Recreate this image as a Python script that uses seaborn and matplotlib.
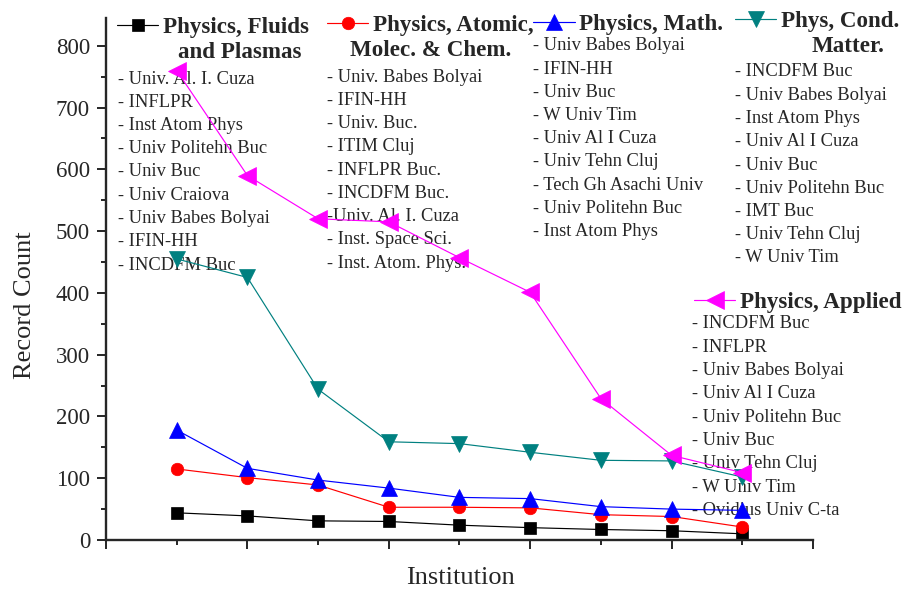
import pandas as pd
import matplotlib
matplotlib.use("Agg")
import matplotlib.pyplot as plt
import seaborn as sns
from matplotlib.ticker import MultipleLocator, NullFormatter

# ---- data -----------------------------------------------------------------
institution = [1, 2, 3, 4, 5, 6, 7, 8, 9]

fluids_plasmas = [44, 39, 31, 30, 24, 20, 17, 15, 10]
atomic_molec_chem = [115, 101, 89, 53, 53, 52, 41, 38, 21]
mathematical = [178, 116, 97, 84, 69, 67, 54, 50, 48]
cond_matter = [455, 425, 244, 159, 156, 142, 129, 128, 102]
applied = [760, 590, 520, 515, 457, 401, 229, 137, 109]

fields = [
    "Physics, Fluids and Plasmas",
    "Physics, Atomic, Molec. & Chem.",
    "Physics, Math.",
    "Phys, Cond. Matter.",
    "Physics, Applied",
]
series = [fluids_plasmas, atomic_molec_chem, mathematical, cond_matter, applied]

# legend headings (first line, second line)
headings = [
    ("Physics, Fluids", "and Plasmas"),
    ("Physics, Atomic,", "Molec. & Chem."),
    ("Physics, Math.", None),
    ("Phys, Cond.", "Matter."),
    ("Physics, Applied", None),
]

# top institutions listed under each category
fluids_inst = ["- Univ. Al. I. Cuza", "- INFLPR", "- Inst Atom Phys", "- Univ Politehn Buc",
               "- Univ Buc", "- Univ Craiova", "- Univ Babes Bolyai", "- IFIN-HH", "- INCDFM Buc"]
atomic_inst = ["- Univ. Babes Bolyai", "- IFIN-HH", "- Univ. Buc.", "- ITIM Cluj", "- INFLPR Buc.",
               "- INCDFM Buc.", "-Univ. Al. I. Cuza", "- Inst. Space Sci.", "- Inst. Atom. Phys."]
math_inst = ["- Univ Babes Bolyai", "- IFIN-HH", "- Univ Buc", "- W Univ Tim", "- Univ Al I Cuza",
             "- Univ Tehn Cluj", "- Tech Gh Asachi Univ", "- Univ Politehn Buc", "- Inst Atom Phys"]
cond_inst = ["- INCDFM Buc", "- Univ Babes Bolyai", "- Inst Atom Phys", "- Univ Al I Cuza", "- Univ Buc",
             "- Univ Politehn Buc", "- IMT Buc", "- Univ Tehn Cluj", "- W Univ Tim"]
applied_inst = ["- INCDFM Buc", "- INFLPR", "- Univ Babes Bolyai", "- Univ Al I Cuza", "- Univ Politehn Buc",
                "- Univ Buc", "- Univ Tehn Cluj", "- W Univ Tim", "- Ovidius Univ C-ta"]
inst_lists = [fluids_inst, atomic_inst, math_inst, cond_inst, applied_inst]

# ---- styling --------------------------------------------------------------
colors = ["#000000", "#ff0000", "#0000ff", "#008080", "#ff00ff"]
markers = ["s", "o", "^", "v", "<"]
msizes = [8.0, 9.0, 11.0, 11.0, 12.5]

W, H = 903, 589


def fx(x):
    return x / W


def fy(y):
    return 1 - y / H


sns.set_theme(style="ticks")
plt.rcParams["font.family"] = ["Liberation Serif", "DejaVu Serif"]
plt.rcParams["axes.linewidth"] = 1.7

fig = plt.figure(figsize=(W / 100, H / 100), dpi=100)
ax = fig.add_axes([fx(106), 1 - 540 / H, (813 - 106) / W, (540 - 18) / H])

df = pd.DataFrame({
    "Institution": [x for _ in fields for x in institution],
    "Record Count": [v for s in series for v in s],
    "Field": [f for f, s in zip(fields, series) for _ in s],
})

sns.lineplot(
    data=df, x="Institution", y="Record Count",
    hue="Field", style="Field", hue_order=fields, style_order=fields,
    palette=dict(zip(fields, colors)), markers=dict(zip(fields, markers)),
    dashes=False, linewidth=0.85, legend=False, sort=False, ax=ax,
)

handles = {}
for line in ax.lines:
    c = matplotlib.colors.to_hex(line.get_color())
    if c in colors:
        i = colors.index(c)
        line.set_markersize(msizes[i])
        line.set_markeredgecolor(colors[i])
        line.set_markerfacecolor(colors[i])
        line.set_markeredgewidth(0.5)
        handles[i] = line

# ---- axes -----------------------------------------------------------------
ax.set_xlim(0, 10)
ax.set_ylim(0, 845)
ax.xaxis.set_major_locator(MultipleLocator(2))
ax.xaxis.set_minor_locator(MultipleLocator(1))
ax.xaxis.set_major_formatter(NullFormatter())
ax.yaxis.set_major_locator(MultipleLocator(100))
ax.yaxis.set_minor_locator(MultipleLocator(50))
ax.tick_params(which="major", direction="out", length=6.5, width=1.4, labelsize=16.5, pad=5)
ax.tick_params(which="minor", direction="out", length=3.5, width=1.4)
sns.despine(ax=ax)
ax.spines["left"].set_bounds(0, 845)

ax.set_xlabel("Institution", fontsize=19, va="center")
ax.set_ylabel("Record Count", fontsize=19, va="center")
ax.xaxis.set_label_coords(0.501, -0.073)
ax.yaxis.set_label_coords(-0.115, 0.45)

# ---- legend keys, headings and institution lists --------------------------
# (key left x, key y, second-line centre x, second-line y,
#  list x, first list y, list step) in figure pixels
layout = [
    (117, 27, 240, 52, 118, 79, 23.25),
    (327, 25, 431, 50, 327, 77, 23.25),
    (533, 24, None, None, 533, 46, 23.2),
    (735, 21, 848, 47, 735, 72, 23.25),
    (694, 302, None, None, 692, 324, 23.3),
]

bold = dict(family="Liberation Serif", weight="bold", size=16.6)
for i, (kx, ky, sx, sy, lx, ly, step) in enumerate(layout):
    first, second = headings[i]
    fig.legend(
        handles=[handles[i]], labels=[first], loc="center left",
        bbox_to_anchor=(fx(kx), fy(ky)), frameon=False, borderpad=0,
        borderaxespad=0, handlelength=1.8, handletextpad=0.2, prop=bold,
    )
    if second is not None:
        ax.text(fx(sx), fy(sy), second, transform=fig.transFigure, ha="center",
                va="center", fontsize=16.6, fontweight="bold", zorder=1)
    for k, name in enumerate(inst_lists[i]):
        ax.text(fx(lx), fy(ly + k * step), name, transform=fig.transFigure,
                ha="left", va="center", fontsize=13.3, zorder=1)

fig.savefig("out.png", dpi=100)
